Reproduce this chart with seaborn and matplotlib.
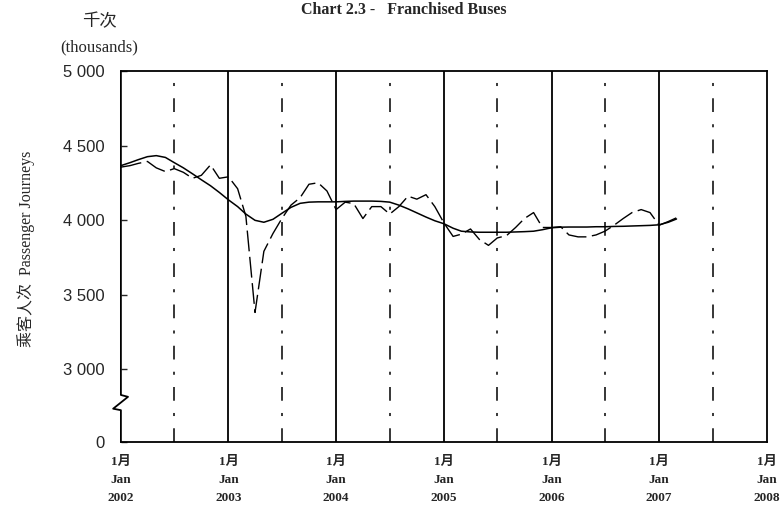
"""
Chart 2.3 - Franchised Buses
Monthly passenger journeys (actual, dashed) and trend (solid), Jan 2002 - Mar 2007.
"""

import pandas as pd
import matplotlib
matplotlib.use("Agg")
import matplotlib.pyplot as plt
import seaborn as sns

# ─────────────────────────────────────────────
# DATA (thousands)
# ─────────────────────────────────────────────
MONTHS = pd.date_range("2002-01-01", periods=63, freq="MS")

ACTUAL = [
    4355, 4365, 4380, 4393, 4350, 4325, 4345, 4320, 4280, 4300, 4370, 4280,   # 2002
    4290, 4210, 4025, 3380, 3790, 3910, 4010, 4100, 4150, 4240, 4250, 4195,   # 2003
    4070, 4120, 4110, 4010, 4090, 4090, 4040, 4090, 4160, 4140, 4170, 4090,   # 2004
    3980, 3890, 3905, 3940, 3870, 3830, 3880, 3895, 3950, 4010, 4050, 3950,   # 2005
    3950, 3955, 3900, 3887, 3887, 3900, 3925, 3965, 4010, 4050, 4070, 4050,   # 2006
    3965, 3990, 4015,                                                         # 2007
]

TREND = [
    4365, 4385, 4405, 4425, 4432, 4420, 4385, 4350, 4310, 4270, 4230, 4185,
    4135, 4090, 4040, 3998, 3985, 4005, 4045, 4085, 4112, 4120, 4122, 4122,
    4122, 4125, 4127, 4127, 4127, 4125, 4120, 4100, 4075, 4048, 4020, 3995,
    3975, 3945, 3925, 3920, 3918, 3918, 3918, 3918, 3920, 3922, 3925, 3935,
    3948, 3952, 3953, 3953, 3953, 3955, 3955, 3957, 3958, 3960, 3962, 3964,
    3968, 3985, 4007,
]

YEARS = [2002, 2003, 2004, 2005, 2006, 2007, 2008]
Y_TICKS = [2510, 3000, 3500, 4000, 4500, 5000]
Y_LABELS = ["0", "3 000", "3 500", "4 000", "4 500", "5 000"]

SERIF_CJK = ["Liberation Serif", "Noto Sans CJK SC"]
SANS = ["Liberation Sans", "DejaVu Sans"]


def make_chart():
    sns.set_style("white")
    plt.rcParams["font.family"] = SERIF_CJK

    df = pd.DataFrame({"month": MONTHS, "actual": ACTUAL, "trend": TREND})

    fig = plt.figure(figsize=(7.8, 5.07), dpi=100)
    ax = fig.add_axes([0.155, 0.128, 0.828, 0.732])

    # year (solid) and mid-year (dash-dot) grid lines
    for y in YEARS[1:-1]:
        ax.axvline(pd.Timestamp(f"{y}-01-01"), color="black", lw=1.3, zorder=1)
    for y in YEARS[:-1]:
        ax.axvline(pd.Timestamp(f"{y}-07-01"), color="black", lw=1.1,
                   ls=(0, (9, 8, 2, 8)), zorder=1)

    sns.lineplot(data=df, x="month", y="trend", ax=ax, color="black", lw=1.1)
    sns.lineplot(data=df, x="month", y="actual", ax=ax, color="black", lw=1.0,
                 linestyle=(0, (15, 4)))

    ax.set_xlim(pd.Timestamp("2002-01-01"), pd.Timestamp("2008-01-01"))
    ax.set_ylim(Y_TICKS[0], Y_TICKS[-1])

    ax.set_yticks(Y_TICKS)
    ax.set_yticklabels(Y_LABELS, family=SANS, fontsize=12)
    ax.tick_params(axis="y", direction="in", length=4, width=1, pad=12, left=True)

    ax.set_xticks([pd.Timestamp(f"{y}-01-01") for y in YEARS])
    ax.set_xticklabels([f"1月\nJan\n{y}" for y in YEARS], fontsize=9.5,
                       fontweight="bold", linespacing=1.65)
    ax.tick_params(axis="x", length=0, pad=10)

    ax.set_xlabel("")
    ax.set_ylabel("")

    for side in ["top", "right", "bottom"]:
        ax.spines[side].set_color("black")
        ax.spines[side].set_linewidth(1.3)

    # left spine with a break mark between 0 and 3 000
    ax.spines["left"].set_visible(False)
    bx = [0, 0, 0.011, -0.012, 0, 0]
    by = [1, 0.127, 0.122, 0.090, 0.086, 0]
    ax.plot(bx, by, transform=ax.transAxes, color="black", lw=1.3,
            clip_on=False, zorder=5)

    # texts
    fig.text(0.517, 0.997, "Chart 2.3 -   Franchised Buses", ha="center",
             va="top", fontsize=11.5, fontweight="bold")
    fig.text(0.127, 0.957, "千次", ha="center", va="center", fontsize=12.5)
    fig.text(0.127, 0.907, "(thousands)", ha="center", va="center", fontsize=12)
    fig.text(0.034, 0.51, "乘客人次  Passenger Journeys", rotation=90,
             ha="center", va="center", fontsize=11.5)

    fig.savefig("out.png", dpi=100)
    plt.close(fig)


if __name__ == "__main__":
    make_chart()
